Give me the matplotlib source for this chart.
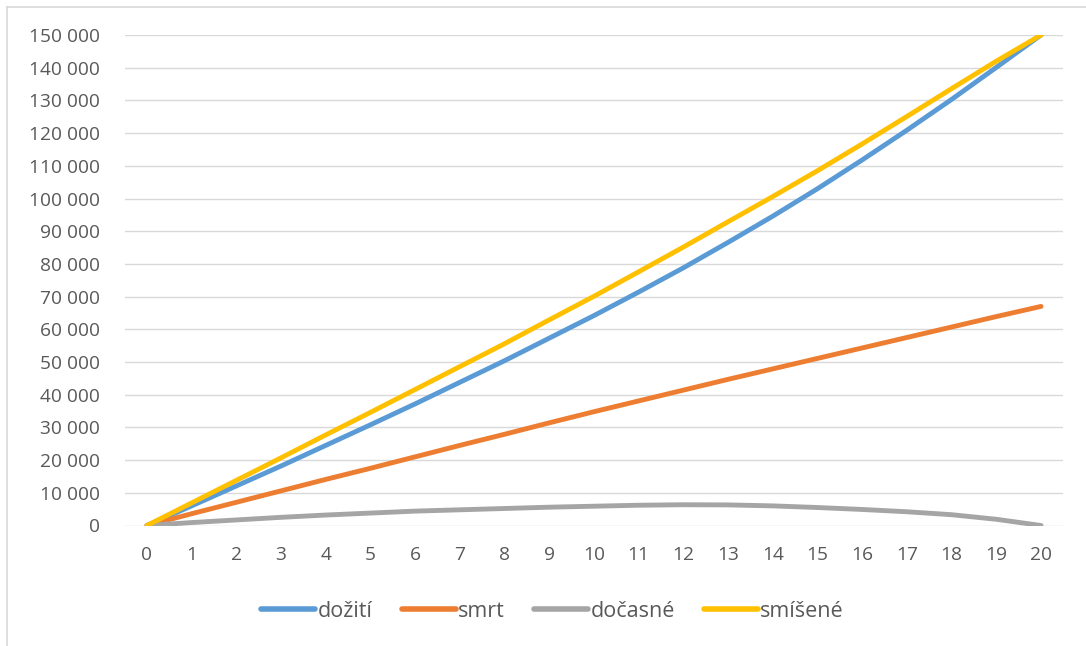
import matplotlib
matplotlib.use("Agg")
import matplotlib.pyplot as plt
from matplotlib.lines import Line2D
from matplotlib.ticker import FuncFormatter, MultipleLocator

# roky trvání pojištění
years = list(range(0, 21))

# rezervy jednotlivých typů pojištění
dozit = [0, 6000, 12100, 18200, 24500, 30800, 37200, 43800, 50400, 57300, 64200,
         71400, 78800, 86600, 94600, 103000, 111800, 120900, 130300, 140100, 150000]
smrt = [0, 3600, 7100, 10600, 14100, 17500, 21000, 24500, 27900, 31400, 34800,
        38100, 41400, 44700, 47900, 51100, 54300, 57500, 60700, 63900, 67000]
docasne = [0, 900, 1700, 2500, 3200, 3800, 4400, 4800, 5200, 5600, 5900,
           6200, 6350, 6300, 6000, 5500, 4900, 4200, 3300, 1900, 0]
smisene = [0, 6900, 13800, 20700, 27700, 34600, 41600, 48600, 55600, 62900, 70100,
           77600, 85150, 92900, 100600, 108500, 116700, 125100, 133600, 142000, 150000]

series = [
    ("dožití", dozit, "#5B9BD5"),
    ("smrt", smrt, "#ED7D31"),
    ("dočasné", docasne, "#A5A5A5"),
    ("smíšené", smisene, "#FFC000"),
]

plt.rcParams['font.family'] = ['Open Sans', 'DejaVu Sans']
text_color = '#595959'
grid_color = '#D9D9D9'

W, H = 1086, 646
fig = plt.figure(figsize=(W / 100, H / 100), dpi=100)
ax = fig.add_axes([124.6 / W, 1 - 525.5 / H, (1063.4 - 124.6) / W, (525.5 - 35) / H])

for name, values, color in series:
    ax.plot(years, values, color=color, linewidth=3.5, label=name,
            solid_capstyle='round', solid_joinstyle='round')

ax.set_xlim(-0.5, 20.5)
ax.set_ylim(0, 150000)
ax.set_xticks(years)
ax.yaxis.set_major_locator(MultipleLocator(10000))
ax.yaxis.set_major_formatter(FuncFormatter(lambda v, p: f"{v:,.0f}".replace(",", " ")))

ax.grid(axis='y', color=grid_color, linewidth=1.0)
ax.set_axisbelow(True)
for side in ['top', 'right', 'left', 'bottom']:
    ax.spines[side].set_visible(False)
ax.tick_params(axis='both', length=0, labelsize=13.8, labelcolor=text_color)
ax.tick_params(axis='y', pad=18)
ax.tick_params(axis='x', pad=15)

leg = ax.legend(loc='center', bbox_to_anchor=(0.456, -0.175), ncol=4, frameon=False,
                fontsize=15.5, handlelength=2.5, handletextpad=0.12, columnspacing=1.35)
for t in leg.get_texts():
    t.set_color(text_color)
for h in leg.get_lines():
    h.set_linewidth(4)
    h.set_solid_capstyle('round')

# rámeček grafu (vlevo a nahoře)
fig.add_artist(Line2D([6.5 / W, 6.5 / W], [0, 1 - 6.5 / H], color=grid_color, linewidth=1.2))
fig.add_artist(Line2D([6.5 / W, 1], [1 - 6.5 / H, 1 - 6.5 / H], color=grid_color, linewidth=1.2))

fig.savefig("out.png", dpi=100, facecolor='white')
